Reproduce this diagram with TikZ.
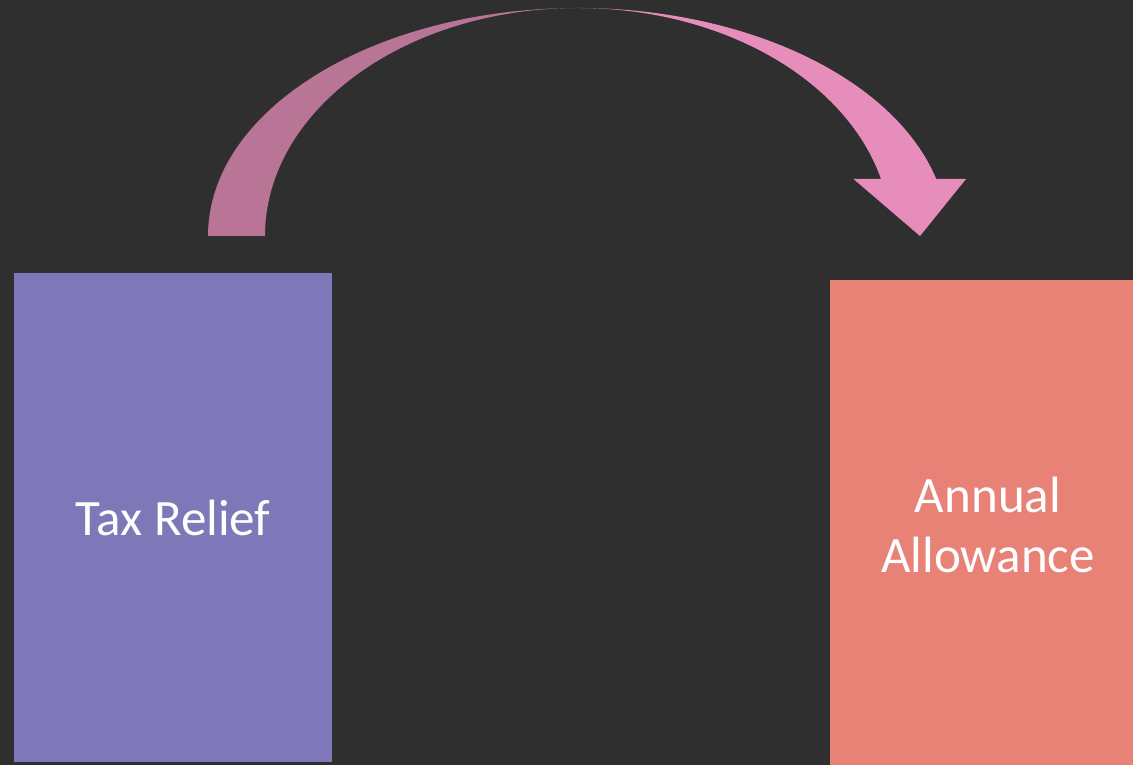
\documentclass[tikz,border=0pt]{standalone}
\usepackage{fontspec}
\setmainfont{Carlito}
\usetikzlibrary{calc}
\definecolor{bg}{HTML}{2F2F2F}
\definecolor{boxpurple}{HTML}{7E78B8}
\definecolor{boxsalmon}{HTML}{E88277}
\definecolor{arrowdark}{HTML}{B87596}
\definecolor{arrowlight}{HTML}{E68DBB}
\begin{document}
\begin{tikzpicture}[x=1pt,y=1pt,
  box/.style={rectangle, inner sep=0pt, text=white, align=center,
    font=\fontsize{51}{60}\selectfont}]
\fill[bg] (0,0) rectangle (1133,765);
\useasboundingbox (0,0) rectangle (1133,765);
\clip (0,0) rectangle (1133,765);
% boxes
\node[box, fill=boxpurple, minimum width=318pt, minimum height=489pt] (tax) at (173,247.5) {Tax Relief};
\node[box, fill=boxsalmon, minimum width=316pt, minimum height=489pt] (annual) at (988,240.5) {Annual\\Allowance};
% curved arrow: back (dark) part
\coordinate (c) at (578,529);
\fill[arrowdark] (208,529) arc[start angle=180, end angle=90, x radius=370pt, y radius=228pt]
  arc[start angle=90, end angle=180, x radius=313pt, y radius=228pt] -- cycle;
% front (light) part with head
\fill[arrowlight] (578,757) arc[start angle=90, end angle=14.5, x radius=370pt, y radius=228pt]
  -- (966,586) -- (920,529) -- (853.5,586)
  -- ($(c)+(14.5:313pt and 228pt)$) arc[start angle=14.5, end angle=90, x radius=313pt, y radius=228pt] -- cycle;
\end{tikzpicture}
\end{document}
